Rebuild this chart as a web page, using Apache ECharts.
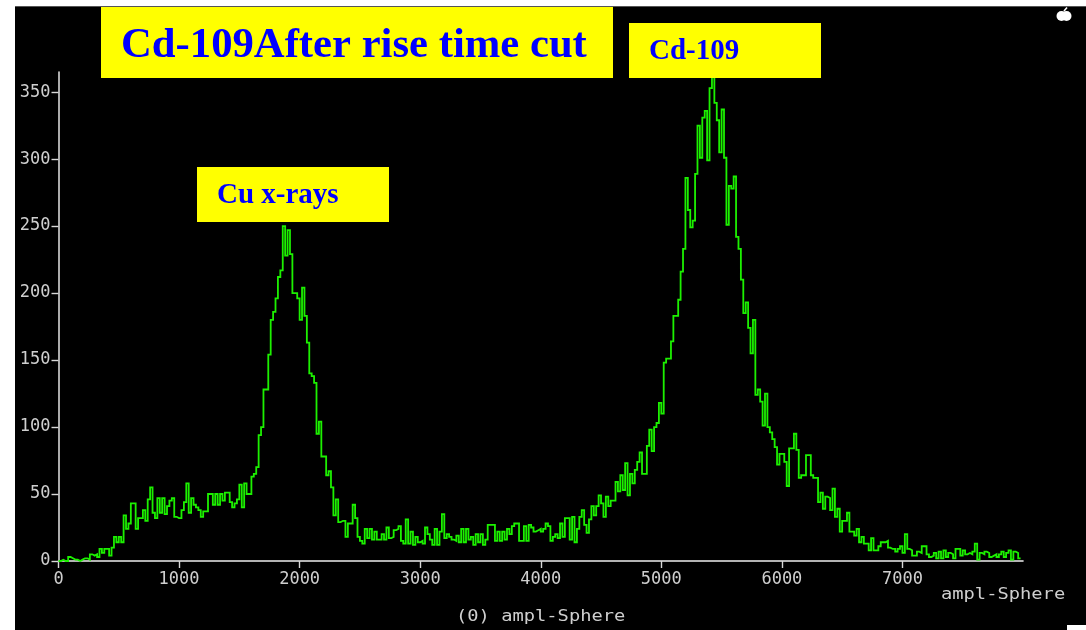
<!DOCTYPE html>
<html>
<head>
<meta charset="utf-8">
<script src="https://cdn.jsdelivr.net/npm/echarts@6/dist/echarts.min.js"></script>
<style>
html,body{margin:0;padding:0;background:#fff;width:1086px;height:630px;overflow:hidden}
#bg{position:absolute;left:15px;top:6px;width:1071px;height:624px;background:#000;border-top:1px solid #555;box-sizing:border-box}
#patch{position:absolute;left:1067px;top:625px;width:19px;height:5px;background:#fff}
#chart{position:absolute;left:0;top:0;width:1086px;height:630px}
</style>
</head>
<body>
<div id="bg"></div><div id="patch"></div>
<div id="chart"></div>
<script>
const binWidth = 20;
const xTicks = [0,1000,2000,3000,4000,5000,6000,7000];
const yTicks = [0,50,100,150,200,250,300,350];
const titleText = "Cd-109After rise time cut";
const peakRightText = "Cd-109";
const peakLeftText = "Cu x-rays";
const axisNameText = "ampl-Sphere";
const histNameText = "(0) ampl-Sphere";

const countsShoulder = [
0,0,1,0,0,3,2,1,1,0,
1,2,2,1,5,4,5,3,9,6,
9,9,4,10,18,14,18,14,34,24,
28,43,43,24,32,32,38,30,46,55,
36,32,47,36,47,35,41,45,47,33,
32,32,38,44,58,36,47,42,40,38,
33,37,37,50,50,42,50,42,50,45,
51,51,44,40,43,46,57,40,58,50
];
const countsCuPeak = [
50,63,65,70,94,100,128,128,154,180,
186,196,212,217,250,228,247,229,200,200,
196,180,204,183,163,140,138,133,95,104,
78,78,64,67,55,34,46,29,30,30,
18,28,28,42,32
];
const countsValley = [
18,15,13,24,17,
24,16,22,16,16,20,16,25,17,18,
23,24,26,15,13,31,13,22,12,18,
14,15,13,25,20,16,12,24,12,22,
35,17,20,18,16,15,19,14,24,14,
24,16,18,12,20,14,20,12,16,27,
27,27,15,22,15,22,16,24,20,26,
28,28,15,15,26,15,27,25,22,23,
24,22,24,28,26,15,18,20,17,28,
18,32,32,16,33,14,24,33,38,27,21
];
const countsCdRise = [
31,41,34,41,49,43,33,48,41,
45,45,59,52,64,53,73,49,65,58,
68,74,81,65,65,86,98,82,100,103,
118,110,148,151,151,164,183,183,195,216
];
const countsCdPeak = [
233,286,262,249,254,289,325,301,
331,336,299,353,368,342,329,305,
337,301,251,280,278,287,242,233
];
const countsCdFall = [
210,185,193,174,155,180,124,
128,119,101,125,100,96,91,85,72,80,
80,74,56,84,84,95,83,62,64,64,
79,79,64,62,62,44,51,39,48,47,
38,54,33,39,22,30,30,36,22,22,
19,24,14,18,13,13,8,17,8
];
const countsTail = [
8,11,14,14,15,10,9,9,7,
9,11,6,20,9,8,4,4,7,6,
11,11,5,3,4,6,2,7,2,8,
3,6,5,2,9,9,4,8,5,6,
5,7,13,1,6,5,7,6,3,4,
5,3,5,7,3,6,8,1,7,6,2
];

const counts = [].concat(countsShoulder, countsCuPeak, countsValley, countsCdRise, countsCdPeak, countsCdFall, countsTail);
const histogram = counts.map((v,i)=>[i*binWidth, v]);

const axisGrey = '#d8d8d8';
const labelFont = {color:'#cfcfcf', fontFamily:'"DejaVu Sans Mono"', fontSize:17};

function box(x,y,w,h){
  return {type:'rect', z:100, silent:true, shape:{x:x,y:y,width:w,height:h}, style:{fill:'#ffff00'}};
}
function label(x,y,text,size){
  return {type:'text', z:101, silent:true, x:x, y:y,
    style:{text:text, fill:'#0000ff', font:'bold '+size+'px "Liberation Serif"', textVerticalAlign:'middle', textBaseline:'middle'}};
}
function greyText(x,y,text){
  return {type:'text', z:101, silent:true, x:x, y:y, scaleX:1.25, scaleY:1,
    style:{text:text, fill:'#cfcfcf', font:'15px "DejaVu Sans Mono"', textBaseline:'middle', textVerticalAlign:'middle'}};
}

const chart = echarts.init(document.getElementById('chart'), null, {renderer:'canvas'});
chart.setOption({
  animation:false,
  backgroundColor:'transparent',
  grid:{left:58.5, right:63, top:72, bottom:69, containLabel:false},
  xAxis:{
    type:'value', min:0, max:8000, interval:1000,
    axisLine:{show:true, onZero:false, lineStyle:{color:'#eeeeee', width:1.6}},
    axisTick:{show:true, length:7, lineStyle:{color:axisGrey, width:1.4}, customValues:xTicks},
    axisLabel:Object.assign({margin:10, customValues:xTicks, formatter:v=>String(v)}, labelFont),
    splitLine:{show:false}
  },
  yAxis:{
    type:'value', min:0, max:365, interval:50,
    axisLine:{show:true, onZero:false, lineStyle:{color:axisGrey, width:1.6}},
    axisTick:{show:true, length:7, lineStyle:{color:axisGrey, width:1.4}, customValues:yTicks},
    axisLabel:Object.assign({margin:8, customValues:yTicks, formatter:v=>String(v)}, labelFont),
    splitLine:{show:false}
  },
  series:[{
    type:'line', data:histogram, step:'start', showSymbol:false, symbol:'none',
    clip:true, silent:true,
    lineStyle:{color:'#1cf000', width:1.8, join:'miter'}
  }],
  graphic:[
    box(101,7,512,71),
    label(121,46,titleText,42.7),
    box(629,23,192,55),
    label(649,52,peakRightText,29),
    box(197,167,192,55),
    label(217,196,peakLeftText,29),
    greyText(941,595,axisNameText),
    greyText(456,617,histNameText),
    {type:'circle', z:101, silent:true, shape:{cx:1061.5,cy:16,r:5}, style:{fill:'#fff'}},
    {type:'circle', z:101, silent:true, shape:{cx:1066.5,cy:16,r:5}, style:{fill:'#fff'}},
    {type:'line', z:101, silent:true, shape:{x1:1064,y1:11,x2:1067,y2:7.5}, style:{stroke:'#fff', lineWidth:1.6}}
  ]
});
</script>
</body>
</html>
